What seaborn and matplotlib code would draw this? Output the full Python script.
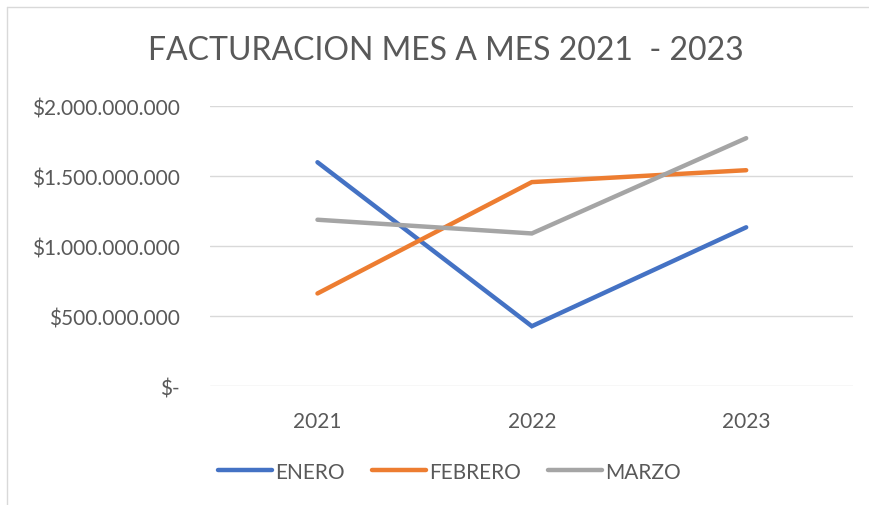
import numpy as np
import pandas as pd
import matplotlib.pyplot as plt
import seaborn as sns
from matplotlib.ticker import FuncFormatter

# Data
years = ["2021", "2022", "2023"]
enero = [1.600e9, 0.428e9, 1.135e9]
febrero = [0.662e9, 1.458e9, 1.543e9]
marzo = [1.189e9, 1.091e9, 1.772e9]
series_names = ["ENERO", "FEBRERO", "MARZO"]
colors = ["#4472C4", "#ED7D31", "#A5A5A5"]
y_ticks = [0, 0.5e9, 1.0e9, 1.5e9, 2.0e9]

df = pd.DataFrame({"year": years * 3,
                   "value": enero + febrero + marzo,
                   "mes": np.repeat(series_names, len(years))})

sns.set_style("white")
plt.rcParams['font.family'] = ['Lato', 'DejaVu Sans']
text_color = "#595959"

fig = plt.figure(figsize=(8.69, 5.06), dpi=100)
ax = fig.add_axes([0.242, 0.235, 0.74, 0.553])

sns.lineplot(data=df, x="year", y="value", hue="mes", palette=colors,
             linewidth=3.2, ax=ax, sort=False,
             solid_capstyle="round", solid_joinstyle="miter")

ax.set_xlim(-0.5, 2.5)
ax.set_ylim(0, 2.0e9)
ax.set_yticks(y_ticks)

def fmt(v, pos):
    if v == 0:
        return "$-"
    return "$" + f"{int(round(v)):,}".replace(",", ".")

ax.yaxis.set_major_formatter(FuncFormatter(fmt))
ax.grid(axis="y", color="#D9D9D9", linewidth=1.0)
ax.set_axisbelow(True)
for s in ax.spines.values():
    s.set_visible(False)
ax.tick_params(axis="both", length=0, labelsize=15, labelcolor=text_color)
ax.tick_params(axis="y", pad=22)
ax.tick_params(axis="x", pad=18)
ax.set_xlabel("")
ax.set_ylabel("")

fig.suptitle("FACTURACION MES A MES 2021  - 2023", x=0.513, y=0.928,
             fontsize=23, color=text_color)

handles, labels = ax.get_legend_handles_labels()
for h in handles:
    h.set_solid_capstyle("round")
ax.legend(handles, labels, loc="center", bbox_to_anchor=(0.517, 0.066),
          bbox_transform=fig.transFigure, ncol=3, frameon=False,
          fontsize=15, labelcolor=text_color, handlelength=2.6,
          handletextpad=0.15, columnspacing=1.3)

# Chart border (top and left edges visible)
fig.add_artist(plt.Line2D([0.008, 1.0], [0.984, 0.984], color="#D9D9D9",
                          linewidth=1.0, transform=fig.transFigure))
fig.add_artist(plt.Line2D([0.008, 0.008], [0.0, 0.984], color="#D9D9D9",
                          linewidth=1.0, transform=fig.transFigure))

fig.savefig("out.png", dpi=100)
